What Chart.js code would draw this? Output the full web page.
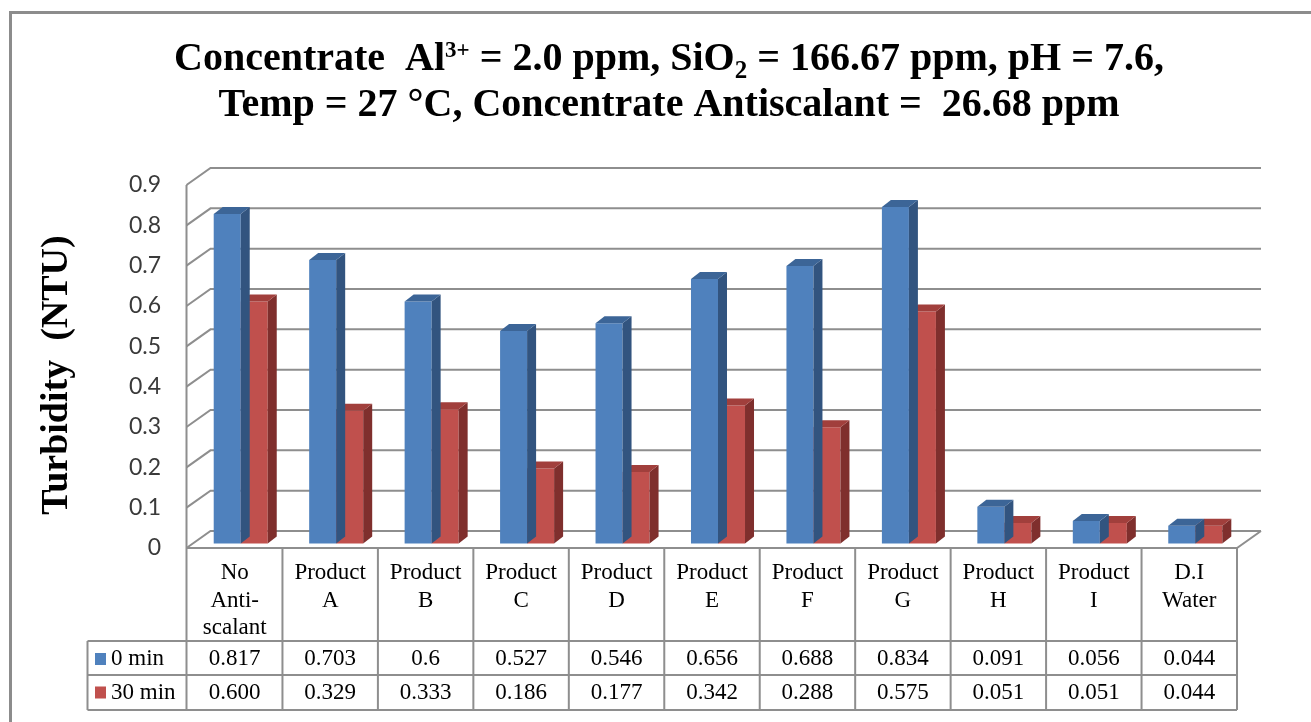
<!DOCTYPE html>
<html>
<head>
<meta charset="utf-8">
<script src="https://cdn.jsdelivr.net/npm/chart.js@4.4.1/dist/chart.umd.min.js"></script>
<style>
  html, body { margin: 0; padding: 0; background: #ffffff; }
  #wrap { position: relative; width: 1311px; height: 722px; }
</style>
</head>
<body>
<div id="wrap"><canvas id="chart" width="1311" height="722"></canvas></div>
<script>
// Turbidity readings per treatment
const categories = [
  ['No', 'Anti-', 'scalant'],
  ['Product', 'A'], ['Product', 'B'], ['Product', 'C'], ['Product', 'D'],
  ['Product', 'E'], ['Product', 'F'], ['Product', 'G'], ['Product', 'H'],
  ['Product', 'I'], ['D.I', 'Water']
];
const seriesNames = ['0 min', '30 min'];
const turbidity0min = [0.817, 0.703, 0.6, 0.527, 0.546, 0.656, 0.688, 0.834, 0.091, 0.056, 0.044];
const turbidity30min = [0.600, 0.329, 0.333, 0.186, 0.177, 0.342, 0.288, 0.575, 0.051, 0.051, 0.044];
const yTickLabels = ['0', '0.1', '0.2', '0.3', '0.4', '0.5', '0.6', '0.7', '0.8', '0.9'];

// Colours of the front, side and top faces of the columns
const faceColors = [
  { front: '#4f81bd', side: '#32547f', top: '#3c6597' },
  { front: '#c0504d', side: '#7f2f2d', top: '#a13f3c' }
];

const SERIF = '"Liberation Serif", "Times New Roman", serif';
const GRID = '#8e8e8e';
const WALL_DX = 24, WALL_DY = -17;   // depth of the floor / side wall
const BAR_DX = 9, BAR_DY = -7;       // depth of each column
const BAR_SHIFT_X = 6, BAR_SHIFT_Y = -4.5;

// Title with superscript / subscript runs
const titleLines = [
  { y: 70, runs: [
    ['Concentrate  Al', 'n'], ['3+', 'sup'], [' = 2.0 ppm, SiO', 'n'], ['2', 'sub'],
    [' = 166.67 ppm, pH = 7.6,', 'n']
  ]},
  { y: 116, runs: [['Temp = 27 \u00B0C, Concentrate Antiscalant =  26.68 ppm', 'n']] }
];

const framePlugin = {
  id: 'frameAndTitle',
  beforeDraw(chart) {
    const ctx = chart.ctx;
    ctx.save();
    ctx.fillStyle = '#ffffff';
    ctx.fillRect(0, 0, chart.width, chart.height);
    ctx.strokeStyle = '#8c8c8c';
    ctx.lineWidth = 3;
    ctx.strokeRect(10.5, 12.5, chart.width + 40, chart.height + 40);

    const fonts = {
      n:   { font: 'bold 40px ' + SERIF, dy: 0 },
      sup: { font: 'bold 23px ' + SERIF, dy: -13 },
      sub: { font: 'bold 25px ' + SERIF, dy: 8 }
    };
    ctx.fillStyle = '#000000';
    ctx.textBaseline = 'alphabetic';
    ctx.textAlign = 'left';
    const cx = 669;
    titleLines.forEach(line => {
      let total = 0;
      line.runs.forEach(r => { ctx.font = fonts[r[1]].font; total += ctx.measureText(r[0]).width; });
      let x = cx - total / 2;
      line.runs.forEach(r => {
        const f = fonts[r[1]];
        ctx.font = f.font;
        ctx.fillText(r[0], x, line.y + f.dy);
        x += ctx.measureText(r[0]).width;
      });
    });

    // value axis title
    ctx.translate(57, 375);
    ctx.rotate(-Math.PI / 2);
    ctx.textAlign = 'center';
    ctx.textBaseline = 'middle';
    ctx.font = 'bold 38px ' + SERIF;
    ctx.fillText('Turbidity  (NTU)', 0, 0);
    ctx.restore();
  }
};

const wallsPlugin = {
  id: 'walls3d',
  beforeDatasetsDraw(chart) {
    const ctx = chart.ctx;
    const ys = chart.scales.y;
    const area = chart.chartArea;
    const left = area.left - 0.5, right = area.right;
    ctx.save();
    ctx.strokeStyle = GRID;
    ctx.lineWidth = 2;
    ctx.lineJoin = 'miter';
    ys.ticks.forEach(t => {
      const y = ys.getPixelForValue(t.value);
      ctx.beginPath();
      ctx.moveTo(left, y);
      ctx.lineTo(left + WALL_DX, y + WALL_DY);
      ctx.lineTo(right + WALL_DX, y + WALL_DY);
      ctx.stroke();
    });
    // floor front edge and right edge
    const y0 = ys.getPixelForValue(0);
    ctx.beginPath();
    ctx.moveTo(left, y0);
    ctx.lineTo(right, y0);
    ctx.lineTo(right + WALL_DX, y0 + WALL_DY);
    ctx.stroke();
    // value axis line
    const yTop = ys.getPixelForValue(ys.max);
    ctx.beginPath();
    ctx.moveTo(left, yTop);
    ctx.lineTo(left, y0);
    ctx.stroke();
    ctx.restore();

    // columns sit a little way back from the front plane
    ctx.save();
    ctx.translate(BAR_SHIFT_X, BAR_SHIFT_Y);
  },
  afterDatasetDraw(chart, args) {
    const ctx = chart.ctx;
    const c = faceColors[args.index];
    const meta = args.meta;
    meta.data.forEach(bar => {
      const p = bar.getProps(['x', 'y', 'base', 'width'], true);
      const l = p.x - p.width / 2, r = p.x + p.width / 2;
      const top = Math.min(p.y, p.base), bot = Math.max(p.y, p.base);
      ctx.fillStyle = c.side;
      ctx.beginPath();
      ctx.moveTo(r, top);
      ctx.lineTo(r + BAR_DX, top + BAR_DY);
      ctx.lineTo(r + BAR_DX, bot + BAR_DY);
      ctx.lineTo(r, bot);
      ctx.closePath();
      ctx.fill();
      ctx.fillStyle = c.top;
      ctx.beginPath();
      ctx.moveTo(l, top);
      ctx.lineTo(l + BAR_DX, top + BAR_DY);
      ctx.lineTo(r + BAR_DX, top + BAR_DY);
      ctx.lineTo(r, top);
      ctx.closePath();
      ctx.fill();
    });
  },
  afterDatasetsDraw(chart) {
    chart.ctx.restore();
  }
};

const tablePlugin = {
  id: 'dataTable',
  afterDraw(chart) {
    const ctx = chart.ctx;
    const xs = chart.scales.x;
    const area = chart.chartArea;
    const n = chart.data.labels.length;
    const colW = (area.right - area.left) / n;
    const yHead = area.bottom;
    const yRow1 = yHead + 93, yRow2 = yRow1 + 34, yEnd = yRow2 + 35;
    const legendLeft = 87.5;
    const tableLeft = area.left - 0.5;
    ctx.save();
    ctx.strokeStyle = GRID;
    ctx.lineWidth = 2;
    // horizontal rules
    [yRow1, yRow2, yEnd].forEach(y => {
      ctx.beginPath();
      ctx.moveTo(legendLeft, y);
      ctx.lineTo(area.right, y);
      ctx.stroke();
    });
    // vertical rules
    ctx.beginPath();
    ctx.moveTo(legendLeft, yRow1);
    ctx.lineTo(legendLeft, yEnd);
    for (let i = 0; i <= n; i++) {
      const x = i === 0 ? tableLeft : xs.getPixelForValue(i - 1) + colW / 2;
      ctx.moveTo(x, yHead);
      ctx.lineTo(x, yEnd);
    }
    ctx.stroke();

    ctx.fillStyle = '#000000';
    ctx.font = '23px ' + SERIF;
    ctx.textAlign = 'center';
    ctx.textBaseline = 'middle';
    chart.data.labels.forEach((lab, i) => {
      const cx = xs.getPixelForValue(i);
      lab.forEach((line, k) => ctx.fillText(line, cx, yHead + 25 + k * 27.5));
    });
    chart.data.datasets.forEach((ds, d) => {
      const cy = d === 0 ? (yRow1 + yRow2) / 2 + 1 : (yRow2 + yEnd) / 2;
      ds.data.forEach((v, i) => {
        const txt = d === 0 ? String(v) : v.toFixed(3);
        ctx.fillText(txt, xs.getPixelForValue(i), cy);
      });
      ctx.fillStyle = faceColors[d].front;
      ctx.fillRect(95, cy - 6, 11, 12);
      ctx.fillStyle = '#000000';
      ctx.textAlign = 'left';
      ctx.fillText(ds.label, 111, cy);
      ctx.textAlign = 'center';
    });
    ctx.restore();
  }
};

new Chart(document.getElementById('chart'), {
  type: 'bar',
  data: {
    labels: categories,
    datasets: [
      { label: seriesNames[0], data: turbidity0min, backgroundColor: faceColors[0].front },
      { label: seriesNames[1], data: turbidity30min, backgroundColor: faceColors[1].front }
    ]
  },
  options: {
    responsive: false,
    animation: false,
    devicePixelRatio: 1,
    layout: { padding: { left: 0, top: 185, right: 74, bottom: 174 } },
    datasets: { bar: { categoryPercentage: 0.566, barPercentage: 1, borderWidth: 0, clip: false } },
    scales: {
      x: { display: false, offset: true },
      y: {
        min: 0, max: 0.9,
        afterFit(scale) { scale.width = 187; },
        border: { display: false },
        grid: { display: false, drawTicks: false },
        ticks: {
          stepSize: 0.1,
          padding: 26,
          color: '#3a3a3a',
          font: { family: 'Lato', size: 23 },
          callback: (v, i) => yTickLabels[i]
        }
      }
    },
    plugins: { legend: { display: false }, tooltip: { enabled: false }, title: { display: false } }
  },
  plugins: [framePlugin, wallsPlugin, tablePlugin]
});
</script>
</body>
</html>
